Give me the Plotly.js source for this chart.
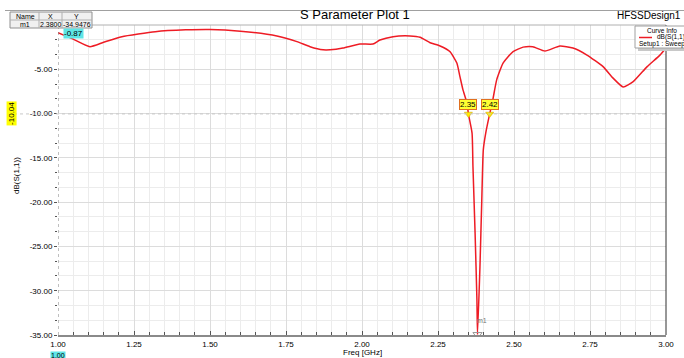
<!DOCTYPE html>
<html>
<head>
<meta charset="utf-8">
<script src="https://cdn.plot.ly/plotly-3.0.1.min.js"></script>
<style>html,body{margin:0;padding:0;background:#fff;}#chart{width:684px;height:358px;}</style>
</head>
<body>
<div id="chart"></div>
<script>
// ---- data ----
const freq = [1.00, 1.05, 1.105, 1.15, 1.21, 1.32, 1.42, 1.50, 1.60, 1.72, 1.786, 1.829, 1.872, 1.895, 1.9375, 1.993, 2.036, 2.059, 2.102, 2.158, 2.191, 2.224, 2.257, 2.289, 2.312, 2.322, 2.332, 2.345, 2.35, 2.362, 2.365, 2.372, 2.378, 2.38, 2.388, 2.394, 2.399, 2.407, 2.42, 2.43, 2.443, 2.464, 2.497, 2.530, 2.562, 2.602, 2.651, 2.694, 2.740, 2.793, 2.826, 2.859, 2.892, 2.938, 2.980, 3.00];
const s11 = [-0.87, -1.6, -2.45, -1.95, -1.32, -0.76, -0.55, -0.5, -0.7, -1.24, -1.88, -2.45, -2.8, -2.8, -2.6, -2.15, -2.15, -1.7, -1.32, -1.24, -1.39, -2.0, -2.37, -3.0, -4.3, -5.8, -7.3, -8.8, -10.04, -12.2, -16, -23.5, -31, -34.95, -27.3, -19.8, -14.1, -12.2, -10.04, -8.5, -6.2, -4.3, -3.0, -2.5, -2.45, -2.94, -2.37, -2.6, -3.39, -4.7, -6.0, -7.0, -6.4, -4.7, -3.4, -2.6];
const xTicks = [1.00, 1.25, 1.50, 1.75, 2.00, 2.25, 2.50, 2.75, 3.00];
const yTicks = [-35, -30, -25, -20, -15, -10, -5];
const markerLevel = -10.04;
const crossFreqs = [2.35, 2.42];
const m1 = {name: 'm1', x: 2.38, y: -34.9476};
const startMarker = {x: 1.00, y: -0.87};

const F = 'Liberation Sans, Arial, sans-serif';
// helpers to place decorations by pixel
const L = 58, R = 666, T = 25, B = 335;
const px = p => (p - L) / (R - L);
const py = p => (B - p) / (B - T);

const traces = [
  {x: freq, y: s11, mode: 'lines', line: {color: '#ee1c25', width: 1.5, shape: 'spline', smoothing: 0.5}, hoverinfo: 'x+y', showlegend: false},
  {x: crossFreqs, y: crossFreqs.map(() => markerLevel), mode: 'markers',
   marker: {symbol: 'triangle-down', size: 7, color: '#ffe800', line: {color: '#c8a000', width: 0.5}}, showlegend: false},
  {x: [m1.x], y: [m1.y], mode: 'markers',
   marker: {symbol: 'triangle-down-open', size: 8, color: '#999'}, showlegend: false}
];

const annotations = [
  {xref: 'paper', yref: 'paper', x: px(355), y: py(14), text: 'S Parameter Plot 1', showarrow: false, font: {family: F, size: 13, color: '#000'}, xanchor: 'center', yanchor: 'middle'},
  {xref: 'paper', yref: 'paper', x: px(683), y: py(15), text: 'HFSSDesign1', showarrow: false, font: {family: F, size: 10, color: '#000'}, xanchor: 'right', yanchor: 'middle'},
  // marker table
  {xref: 'paper', yref: 'paper', x: px(25), y: py(16.5), text: 'Name', showarrow: false, font: {family: F, size: 7, color: '#000'}, xanchor: 'center', yanchor: 'middle'},
  {xref: 'paper', yref: 'paper', x: px(50), y: py(16.5), text: 'X', showarrow: false, font: {family: F, size: 7, color: '#000'}, xanchor: 'center', yanchor: 'middle'},
  {xref: 'paper', yref: 'paper', x: px(76), y: py(16.5), text: 'Y', showarrow: false, font: {family: F, size: 7, color: '#000'}, xanchor: 'center', yanchor: 'middle'},
  {xref: 'paper', yref: 'paper', x: px(25), y: py(24), text: m1.name, showarrow: false, font: {family: F, size: 7, color: '#000'}, xanchor: 'center', yanchor: 'middle'},
  {xref: 'paper', yref: 'paper', x: px(51), y: py(24), text: m1.x.toFixed(4), showarrow: false, font: {family: F, size: 7, color: '#000'}, xanchor: 'center', yanchor: 'middle'},
  {xref: 'paper', yref: 'paper', x: px(77), y: py(24), text: m1.y.toFixed(4), showarrow: false, font: {family: F, size: 7, color: '#000'}, xanchor: 'center', yanchor: 'middle'},
  // legend box
  {xref: 'paper', yref: 'paper', x: px(662), y: py(30.5), text: 'Curve Info', showarrow: false, font: {family: F, size: 6.5, color: '#000'}, xanchor: 'center', yanchor: 'middle'},
  {xref: 'paper', yref: 'paper', x: px(655), y: py(37.5), text: 'dB(S(1,1))', showarrow: false, font: {family: F, size: 6.5, color: '#000'}, xanchor: 'left', yanchor: 'middle'},
  {xref: 'paper', yref: 'paper', x: px(637), y: py(43.5), text: 'Setup1 : Sweep', showarrow: false, font: {family: F, size: 6.5, color: '#000'}, xanchor: 'left', yanchor: 'middle'},
  // marker labels
  {x: startMarker.x, y: startMarker.y, text: startMarker.y.toFixed(2), showarrow: false, xanchor: 'left', yanchor: 'middle', xshift: 5, yshift: -1, bgcolor: '#5fe6e6', font: {family: F, size: 8, color: '#000'}, borderpad: 0},
  {xref: 'paper', yref: 'paper', x: 0, y: py(355), text: startMarker.x.toFixed(2), showarrow: false, xanchor: 'center', yanchor: 'middle', bgcolor: '#5fe6e6', font: {family: F, size: 7, color: '#000'}, borderpad: 0},
  {xref: 'paper', x: px(12), y: markerLevel, text: markerLevel.toFixed(2), textangle: -90, showarrow: false, xanchor: 'center', yanchor: 'middle', bgcolor: '#ffff00', font: {family: F, size: 8, color: '#000'}, borderpad: 0},
  {x: m1.x, y: m1.y, text: m1.name, showarrow: false, xanchor: 'left', yanchor: 'bottom', xshift: -3, yshift: 9, font: {family: F, size: 7, color: '#777'}}
];
crossFreqs.forEach(f => annotations.push({x: f, y: markerLevel, text: f.toFixed(2), showarrow: false, xanchor: 'center', yanchor: 'bottom', yshift: 4, bgcolor: '#ffff33', bordercolor: '#e07020', borderwidth: 1, borderpad: 0, font: {family: F, size: 8, color: '#000'}}));
// axis titles
annotations.push({xref: 'paper', yref: 'paper', x: 0.5, y: py(352), text: 'Freq [GHz]', showarrow: false, font: {family: F, size: 8, color: '#000'}, xanchor: 'center', yanchor: 'middle'});
annotations.push({xref: 'paper', yref: 'paper', x: px(16), y: py(175), text: 'dB(S(1,1))', textangle: -90, showarrow: false, font: {family: F, size: 8, color: '#000'}, xanchor: 'center', yanchor: 'middle'});

const shapes = [
  // top header line
  {type: 'line', xref: 'paper', yref: 'paper', x0: px(5), x1: px(684), y0: py(10.5), y1: py(10.5), line: {color: '#a0a0a0', width: 1}},
  // plot borders
  {type: 'line', xref: 'paper', yref: 'paper', x0: 0, x1: 1, y0: 1, y1: 1, line: {color: '#b0b0b0', width: 1}},
  {type: 'line', xref: 'paper', yref: 'paper', x0: 1, x1: 1, y0: 0, y1: 1, line: {color: '#303030', width: 1}},
  // marker guide lines
  {type: 'line', xref: 'x', yref: 'paper', x0: startMarker.x, x1: startMarker.x, y0: 0, y1: 1, line: {color: '#808080', width: 1, dash: 'dot'}},
  {type: 'line', xref: 'paper', yref: 'y', x0: px(8), x1: 1, y0: markerLevel, y1: markerLevel, line: {color: '#c8c8c8', width: 1, dash: 'dot'}},
  // marker table
  {type: 'rect', xref: 'paper', yref: 'paper', x0: px(10), x1: px(92), y0: py(28), y1: py(12), fillcolor: '#f0f0f0', line: {color: '#909090', width: 1}, layer: 'above'},
  {type: 'line', xref: 'paper', yref: 'paper', x0: px(10), x1: px(92), y0: py(20), y1: py(20), line: {color: '#b0b0b0', width: 1}, layer: 'above'},
  {type: 'line', xref: 'paper', yref: 'paper', x0: px(39), x1: px(39), y0: py(28), y1: py(12), line: {color: '#b0b0b0', width: 1}, layer: 'above'},
  {type: 'line', xref: 'paper', yref: 'paper', x0: px(62), x1: px(62), y0: py(28), y1: py(12), line: {color: '#b0b0b0', width: 1}, layer: 'above'},
  // legend box
  {type: 'rect', xref: 'paper', yref: 'paper', x0: px(638), x1: px(686), y0: py(51), y1: py(28), fillcolor: '#c8c8c8', line: {width: 0}, layer: 'above'},
  {type: 'rect', xref: 'paper', yref: 'paper', x0: px(635), x1: px(686), y0: py(48), y1: py(26), fillcolor: '#ffffff', line: {color: '#a0a0a0', width: 1}, layer: 'above'},
  {type: 'line', xref: 'paper', yref: 'paper', x0: px(639), x1: px(652), y0: py(37.5), y1: py(37.5), line: {color: '#ee1c25', width: 1.5}, layer: 'above'}
];

const layout = {
  width: 684, height: 358,
  margin: {l: L, r: 684 - R, t: T, b: 358 - B, pad: 0},
  paper_bgcolor: '#ffffff', plot_bgcolor: '#ffffff',
  showlegend: false,
  xaxis: {
    range: [1, 3], tickvals: xTicks, ticktext: xTicks.map(v => v.toFixed(2)),
    showgrid: true, gridcolor: '#dcdcdc', gridwidth: 1,
    minor: {dtick: 0.05, tick0: 1, showgrid: true, gridcolor: '#ececec', ticks: 'inside', ticklen: 3, tickcolor: '#555'},
    ticks: 'inside', ticklen: 4, tickcolor: '#555',
    showline: true, linecolor: '#8a8a8a', linewidth: 2, mirror: false,
    zeroline: false, tickfont: {family: F, size: 8, color: '#000'}, automargin: false
  },
  yaxis: {
    range: [-35, 0], tickvals: yTicks, ticktext: yTicks.map(v => v.toFixed(2)),
    showgrid: true, gridcolor: '#dcdcdc', gridwidth: 1,
    minor: {dtick: 5 / 3, tick0: -35, showgrid: true, gridcolor: '#ececec', ticks: 'outside', ticklen: 2, tickcolor: '#555'},
    ticks: 'outside', ticklen: 3, tickcolor: '#555',
    showline: false, zeroline: false,
    tickfont: {family: F, size: 8, color: '#000'}, automargin: false
  },
  shapes: shapes,
  annotations: annotations
};

Plotly.newPlot('chart', traces, layout, {displayModeBar: false, staticPlot: true});
</script>
</body>
</html>
